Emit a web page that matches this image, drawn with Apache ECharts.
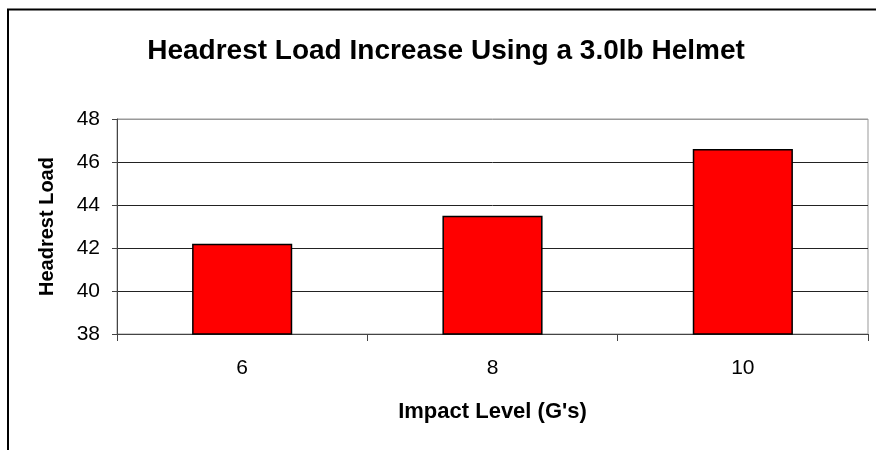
<!DOCTYPE html>
<html>
<head>
<meta charset="utf-8">
<script src="https://cdn.jsdelivr.net/npm/echarts@6/dist/echarts.min.js"></script>
<style>
html,body{margin:0;padding:0;background:#fff;}
#chart{width:876px;height:450px;}
</style>
</head>
<body>
<div id="chart"></div>
<script>
const categories = ['6', '8', '10'];
const headrestLoad = [42.2, 43.5, 46.6];
const yTicks = { min: 38, max: 48, interval: 2 };

const FONT = '"Liberation Sans", Arial, sans-serif';
const chart = echarts.init(document.getElementById('chart'), null, { renderer: 'canvas' });
chart.setOption({
  backgroundColor: '#fff',
  animation: false,
  title: {
    text: 'Headrest Load Increase Using a 3.0lb Helmet',
    left: 441, top: 32, textAlign: 'center',
    textStyle: { fontFamily: FONT, fontSize: 28, fontWeight: 'bold', color: '#000' }
  },
  graphic: [{
    type: 'rect', shape: { x: 8, y: 9.5, width: 900, height: 500 },
    style: { fill: 'none', stroke: '#000', lineWidth: 2 }, z: -1
  }],
  grid: { left: 117, top: 119, right: 8, bottom: 116, show: true, borderColor: '#999', borderWidth: 1, backgroundColor: 'transparent' },
  xAxis: {
    type: 'category', data: categories,
    name: "Impact Level (G's)", nameLocation: 'middle', nameGap: 67,
    nameTextStyle: { fontFamily: FONT, fontSize: 22, fontWeight: 'bold', color: '#000' },
    axisLine: { lineStyle: { color: '#444', width: 1 } },
    axisTick: { show: true, length: 7, lineStyle: { color: '#444' } },
    axisLabel: { fontFamily: FONT, fontSize: 21, color: '#000', margin: 24 }
  },
  yAxis: {
    type: 'value', min: yTicks.min, max: yTicks.max, interval: yTicks.interval,
    name: 'Headrest Load', nameLocation: 'middle', nameGap: 60,
    nameTextStyle: { fontFamily: FONT, fontSize: 20, fontWeight: 'bold', color: '#000' },
    axisLine: { show: true, lineStyle: { color: '#444', width: 1 } },
    axisTick: { show: true, length: 5, lineStyle: { color: '#444' } },
    axisLabel: { fontFamily: FONT, fontSize: 21, color: '#000', margin: 17 },
    splitLine: { show: true, lineStyle: { color: ['#444', '#222', '#222', '#222', '#222', '#999'], width: 1 } }
  },
  series: [{
    type: 'bar', data: headrestLoad, barWidth: '40%',
    itemStyle: { color: '#ff0000', borderColor: '#000', borderWidth: 1.5 }
  }]
});
</script>
</body>
</html>
